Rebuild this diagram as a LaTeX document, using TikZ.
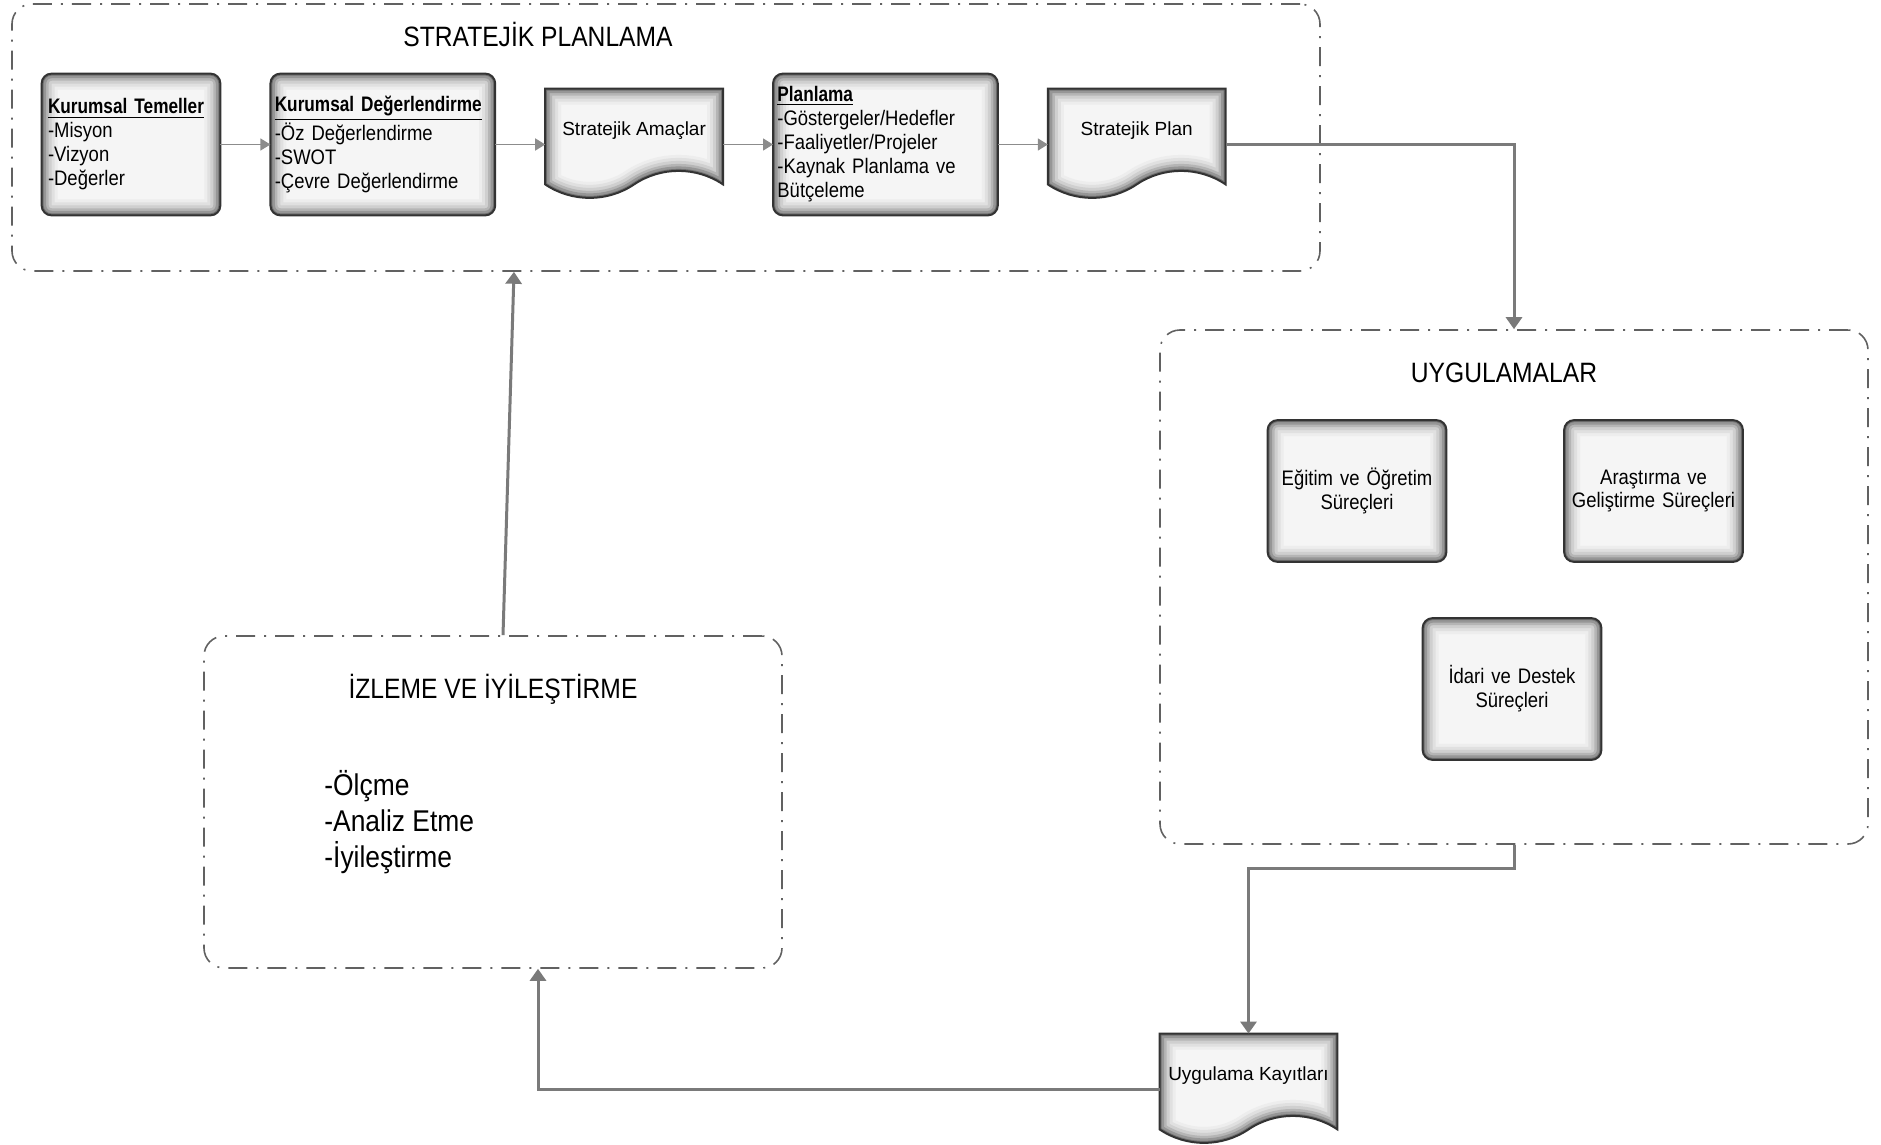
\documentclass[tikz,border=0pt]{standalone}
\usepackage{fontspec}
\setmainfont{Liberation Sans}
\newfontfamily\narrowfont{Liberation Sans}[FakeStretch=0.88]
\newfontfamily\headfont{Liberation Sans}[FakeStretch=0.82]
\usetikzlibrary{arrows.meta,positioning,calc,backgrounds}

% outlines of the shaded shapes
\newcommand{\boxpath}[1]{[rounded corners=5pt] (#1.south west) rectangle (#1.north east)}
\newcommand{\docpath}[1]{(#1.north west) -- (#1.north east) -- (#1.south east)
  .. controls ($(#1.south west)!.85!(#1.south east)+(0,9pt)$) and ($(#1.south west)!.65!(#1.south east)+(0,9pt)$) .. ($(#1.south west)!.5!(#1.south east)$)
  .. controls ($(#1.south west)!.35!(#1.south east)-(0,9pt)$) and ($(#1.south west)!.15!(#1.south east)-(0,9pt)$) .. (#1.south west) -- cycle}
% inner glow: light face, dark rim
\newcommand{\glowshape}[1]{%
  \begin{scope}
    \clip #1;
    \fill[black!4] #1;
    \foreach \w/\c in {16/7,13/12,10/19,7/29,4.5/41,2/56}
      {\draw[line width=\w pt, black!\c] #1;}
  \end{scope}
  \draw[line width=1pt, black!80] #1;}
\newcommand{\head}[1]{\underline{{\headfont\bfseries #1}}}

\begin{document}
\begin{tikzpicture}[x=0.5pt,y=-0.5pt,>={Triangle[length=5pt,width=6pt]},
  frame/.style={draw=black!62, line width=0.8pt, rounded corners=10pt,
    dash pattern=on 9.5pt off 4.5pt on 1pt off 4.5pt},
  title/.style={font=\narrowfont\fontsize{14pt}{16pt}\selectfont},
  box/.style={minimum height=70.5pt, inner xsep=3pt, inner ysep=0pt,
    font=\narrowfont\fontsize{10.5pt}{12pt}\selectfont},
  doc/.style={minimum width=88.5pt, minimum height=47.5pt, inner sep=0pt,
    text depth=8pt, font=\fontsize{9.5pt}{11.5pt}\selectfont},
  flow/.style={->, draw=black!45, line width=0.8pt},
  link/.style={-{Triangle[length=6pt,width=8pt]}, draw=black!52, line width=1.5pt}]
  \useasboundingbox (0,0) rectangle (1881,1145);

  % strategic planning
  \node[frame, minimum width=654pt, minimum height=133.5pt] (spl) at (666,137.5) {};
  \node[title] (spltitle) at (538,34) {STRATEJİK PLANLAMA};
  \node[box, text width=83pt, align=left] (kt) at (131,144.5)
    {\head{Kurumsal Temeller}\\-Misyon\\-Vizyon\\-Değerler};
  \node[box, text width=108pt, inner xsep=2pt, align=left, right=25pt of kt] (kd)
    {\head{Kurumsal Değerlendirme}\\-Öz Değerlendirme\\-SWOT\\-Çevre Değerlendirme};
  \node[doc, right=25pt of kd, yshift=4pt] (sa) {Stratejik Amaçlar};
  \node[box, text width=108pt, inner xsep=2pt, align=left, right=25pt of sa, yshift=-4pt] (pl)
    {\head{Planlama}\\-Göstergeler/Hedefler\\-Faaliyetler/Projeler\\-Kaynak Planlama ve\\Bütçeleme};
  \node[doc, right=25pt of pl, yshift=4pt] (sp) {Stratejik Plan};

  % applications
  \node[frame, minimum width=354pt, minimum height=257pt] (uyg) at (1514,587) {};
  \node[title] (uygtitle) at (1504,373) {UYGULAMALAR};
  \node[box, text width=85pt, inner xsep=2pt, align=center] (egt) at (1357,491)
    {Eğitim ve Öğretim\\Süreçleri};
  \node[box, text width=85pt, inner xsep=2pt, align=center] (arg) at (1653.5,491)
    {Araştırma ve\\Geliştirme Süreçleri};
  \node[box, text width=85pt, inner xsep=2pt, align=center] (ida) at (1512,689)
    {İdari ve Destek\\Süreçleri};
  \node[doc] (uk) at (1248.5,1081.5) {Uygulama Kayıtları};

  % monitoring
  \node[frame, minimum width=289pt, minimum height=166pt] (izl) at (493,802) {};
  \node[title] (izltitle) at (493,689) {İZLEME VE İYİLEŞTİRME};
  \node[anchor=west, inner sep=0pt, align=left,
    font=\narrowfont\fontsize{15pt}{18pt}\selectfont] (izllist) at (324,822)
    {-Ölçme\\-Analiz Etme\\-İyileştirme};

  \begin{scope}[on background layer]
    \foreach \n in {kt,kd,pl,egt,arg,ida}
      {\glowshape{\boxpath{\n}}}
    \foreach \n in {sa,sp,uk}
      {\glowshape{\docpath{\n}}}
  \end{scope}

  \draw[flow] (kt) -- (kd);
  \draw[flow] (kd.east) -- (kd.east -| sa.west);
  \draw[flow] (pl.west -| sa.east) -- (pl.west);
  \draw[flow] (pl.east) -- (pl.east -| sp.west);
  \draw[link] (pl.east -| sp.east) -| (uyg.north);
  \draw[link] (uyg.south) -- ++(0,24) -| (uk.north);
  \draw[link] ([yshift=-4pt]uk.west) -| ([xshift=22.5pt]izl.south);
  \draw[link] ([xshift=5pt]izl.north) -- ([xshift=-76pt]spl.south);
\end{tikzpicture}
\end{document}
